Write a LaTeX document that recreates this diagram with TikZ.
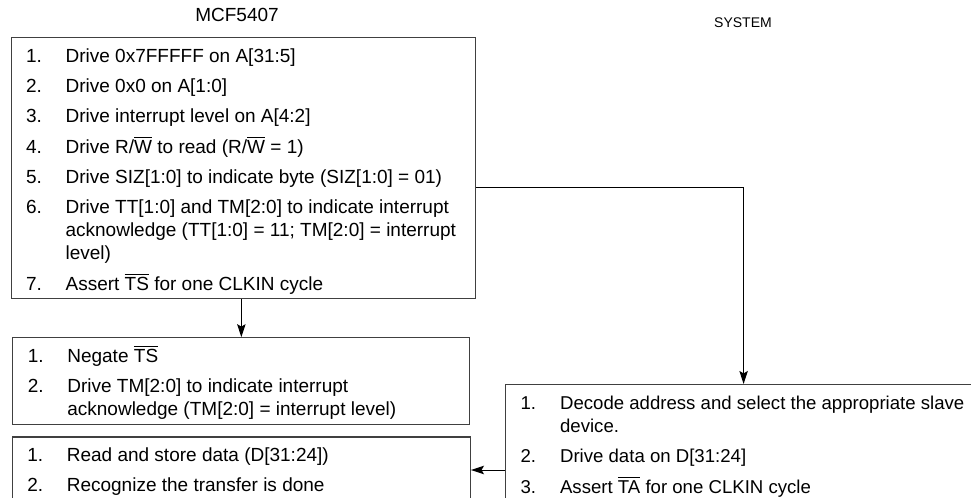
\documentclass[tikz,border=0pt]{standalone}
\usepackage{fontspec}
\setmainfont{Liberation Sans}
\usetikzlibrary{arrows.meta,positioning,calc}
\newcommand{\ovl}[1]{$\overline{\mbox{#1}}$}
\newcommand{\steplist}[2]{\makebox[#1][l]{\begin{tabular}[t]{@{}p{19.75pt}@{}l@{}}#2\end{tabular}}}
\tikzset{
  stepbox/.style={rectangle, draw=black!75, line width=0.6pt, anchor=north west,
                  inner xsep=7.5pt, inner ysep=0pt, text height=12.4pt},
  flow/.style={-{Stealth[length=6.5pt, width=4.2pt, inset=1.2pt]}, draw=black, line width=0.5pt},
  ttl/.style={inner sep=0pt},
}

\begin{document}
\begin{tikzpicture}[x=0.5pt, y=-0.5pt, every node/.style={font=\fontsize{9.5}{11.5}\selectfont}]
\useasboundingbox (0,0) rectangle (971,498);
\clip (0,0) rectangle (971,498);
\node[ttl] (cpu) at (237,15) {MCF5407};
\node[ttl, font=\fontsize{7}{8}\selectfont] (sys) at (743,23) {SYSTEM};
% processor side
\node[stepbox, text depth=118.1pt] (cpu1) at (10.5,37)
 {\steplist{217.25pt}{%
  1. & Drive 0x7FFFFF on A[31:5]\\[3.5pt]
  2. & Drive 0x0 on A[1:0]\\[3.5pt]
  3. & Drive interrupt level on A[4:2]\\[3.5pt]
  4. & Drive R/\ovl{W} to read (R/\ovl{W} = 1)\\[3.5pt]
  5. & Drive SIZ[1:0] to indicate byte (SIZ[1:0] = 01)\\[3.5pt]
  6. & Drive TT[1:0] and TM[2:0] to indicate interrupt\\
     & acknowledge (TT[1:0] = 11; TM[2:0] = interrupt\\
     & level)\\[3.5pt]
  7. & Assert \ovl{TS} for one CLKIN cycle}};
\node[stepbox, text depth=31.1pt, below=19pt of cpu1, xshift=-1pt] (cpu2)
 {\steplist{213.5pt}{%
  1. & Negate \ovl{TS}\\[3.5pt]
  2. & Drive TM[2:0] to indicate interrupt\\
     & acknowledge (TM[2:0] = interrupt level)}};
\node[stepbox, text depth=20.6pt, below=5.5pt of cpu2] (cpu3)
 {\steplist{214pt}{%
  1. & Read and store data (D[31:24])\\[3.5pt]
  2. & Recognize the transfer is done}};
% system side
\node[stepbox, text depth=50.6pt, font=\fontsize{9.3}{11.5}\selectfont] (sys1) at (505,384)
 {\steplist{223pt}{%
  1. & Decode address and select the appropriate slave\\
     & device.\\[3.5pt]
  2. & Drive data on D[31:24]\\[3.5pt]
  3. & Assert \ovl{TA} for one CLKIN cycle}};
\coordinate (tap) at ($(cpu1.north east)!0.575!(cpu1.south east)$);
\draw[flow] (cpu1.south -| cpu2.north) -- (cpu2.north);
\draw[flow] (tap) -| (sys1.north);
\draw[flow] (cpu3.east -| sys1.west) -- (cpu3.east);
\end{tikzpicture}
\end{document}
